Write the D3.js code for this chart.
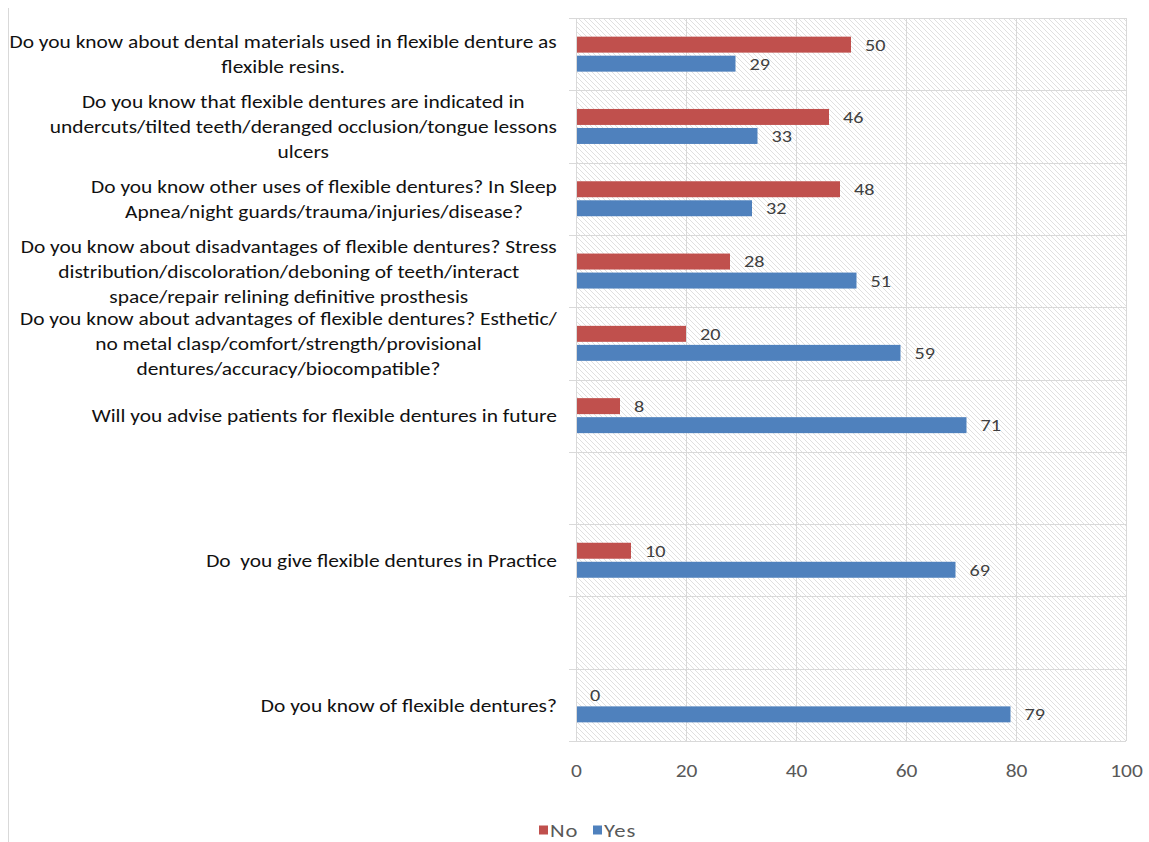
<!DOCTYPE html>
<html>
<head>
<meta charset="utf-8">
<script src="https://cdn.jsdelivr.net/npm/d3@7"></script>
<style>
  body { margin: 0; background: #fff; }
  svg text { font-family: Carlito, Calibri, Lato, sans-serif; }
</style>
</head>
<body>
<div id="chart"></div>
<script>
(function () {
	"use strict";

	// category labels, top to bottom, already wrapped the way the original is
	var categories = [
		["Do you know about dental materials used in flexible denture as", "flexible resins."],
		["Do you know that flexible dentures are indicated in", "undercuts/tilted teeth/deranged occlusion/tongue lessons", "ulcers"],
		["Do you know other uses of flexible dentures? In Sleep", "Apnea/night guards/trauma/injuries/disease?"],
		["Do you know about disadvantages of flexible dentures? Stress", "distribution/discoloration/deboning of teeth/interact", "space/repair relining definitive prosthesis"],
		["Do you know about advantages of flexible dentures? Esthetic/", "no metal clasp/comfort/strength/provisional", "dentures/accuracy/biocompatible?"],
		["Will you advise patients for flexible dentures in future"],
		[],
		["Do  you give flexible dentures in Practice"],
		[],
		["Do you know of flexible dentures?"]
	];
	var noValues  = [50, 46, 48, 28, 20, 8, null, 10, null, 0];
	var yesValues = [29, 33, 32, 51, 59, 71, null, 69, null, 79];
	var seriesNames = ["No", "Yes"];
	var seriesColors = ["#C0504D", "#4F81BD"];
	var xTicks = [0, 20, 40, 60, 80, 100];

	var width = 1149, height = 842,
		plot = {left: 576, right: 1126, top: 18, bottom: 741},
		labelRight = 557,
		lineHeight = 25,
		stretch = 1.19,   // the source picture is a bit wider than it is tall
		gridColor = "#d9d9d9";

	var svg = d3.select("#chart").append("svg")
		.attr("width", width)
		.attr("height", height);

	// hatch fill of the plot area
	var defs = svg.append("defs");
	var pat = defs.append("pattern")
		.attr("id", "hatch")
		.attr("patternUnits", "userSpaceOnUse")
		.attr("width", 5)
		.attr("height", 5);
	pat.append("path")
		.attr("d", "M-1,-1 L6,6 M-1,4 L1,6 M4,-1 L6,1")
		.attr("stroke", "#dadada")
		.attr("stroke-width", 0.85);

	// thin frame line on the left side of the picture
	svg.append("line")
		.attr("x1", 8.5).attr("x2", 8.5)
		.attr("y1", 8).attr("y2", height)
		.attr("stroke", gridColor);

	var idx = d3.range(categories.length);
	var y = d3.scaleBand().domain(idx).range([plot.top, plot.bottom]);
	var ySeries = d3.scaleBand().domain(seriesNames).range([-17.5, 17.5]).paddingInner(0.16);
	var x = d3.scaleLinear().domain([0, 100]).range([plot.left, plot.right]);

	svg.append("rect")
		.attr("x", plot.left).attr("y", plot.top)
		.attr("width", plot.right - plot.left)
		.attr("height", plot.bottom - plot.top)
		.attr("fill", "url(#hatch)");

	// vertical gridlines
	svg.append("g").selectAll("line")
		.data(xTicks.slice(1))
		.join("line")
		.attr("x1", function (d) { return x(d) + 0.5; })
		.attr("x2", function (d) { return x(d) + 0.5; })
		.attr("y1", plot.top).attr("y2", plot.bottom)
		.attr("stroke", gridColor);

	// category boundaries, with the little ticks left of the axis
	var bounds = idx.map(function (i) { return y(i); }).concat([plot.bottom]);
	svg.append("g").selectAll("line")
		.data(bounds)
		.join("line")
		.attr("x1", plot.left - 7).attr("x2", plot.right)
		.attr("y1", function (d) { return Math.round(d) + 0.5; })
		.attr("y2", function (d) { return Math.round(d) + 0.5; })
		.attr("stroke", gridColor);

	svg.append("line")
		.attr("x1", plot.left + 0.5).attr("x2", plot.left + 0.5)
		.attr("y1", plot.top).attr("y2", plot.bottom)
		.attr("stroke", gridColor);

	// x axis tick labels
	var xAxis = svg.append("g")
		.attr("transform", "translate(0," + (plot.bottom + 30) + ")")
		.call(d3.axisBottom(x).tickValues(xTicks).tickSize(0).tickPadding(0));
	xAxis.select(".domain").remove();
	xAxis.attr("font-family", null).attr("font-size", null);
	xAxis.selectAll("text")
		.attr("font-size", 18)
		.attr("fill", "#595959")
		.attr("dy", "0.35em")
		.attr("transform", "scale(" + stretch + ",1)");

	// bars
	var series = [noValues, yesValues];
	var rows = [];
	idx.forEach(function (i) {
		series.forEach(function (vals, s) {
			if (vals[i] !== null) rows.push({i: i, s: s, v: vals[i]});
		});
	});
	var barY = function (d) { return y(d.i) + y.bandwidth() / 2 + ySeries(seriesNames[d.s]); };

	svg.append("g").selectAll("rect")
		.data(rows)
		.join("rect")
		.attr("x", x(0) + 1)
		.attr("y", barY)
		.attr("width", function (d) { return Math.max(0, x(d.v) - x(0) - 1); })
		.attr("height", ySeries.bandwidth())
		.attr("fill", function (d) { return seriesColors[d.s]; });

	svg.append("g").selectAll("text")
		.data(rows)
		.join("text")
		.attr("transform", function (d) {
			return "translate(" + (x(d.v) + 14) + "," + (barY(d) + ySeries.bandwidth() / 2) + ") scale(" + stretch + ",1)";
		})
		.attr("dy", "0.35em")
		.attr("font-size", 17)
		.attr("fill", "#404040")
		.text(function (d) { return d.v; });

	// category labels: each block centred on itself, block right-aligned
	var labels = svg.append("g");
	categories.forEach(function (lines, i) {
		if (!lines.length) return;
		var g = labels.append("g");
		var cy = y(i) + y.bandwidth() / 2 + 0.5,
			y0 = cy - (lines.length - 1) * lineHeight / 2;
		var t = g.selectAll("text")
			.data(lines)
			.join("text")
			.attr("x", 0)
			.attr("y", function (d, k) { return y0 + k * lineHeight; })
			.attr("dy", "0.35em")
			.attr("font-size", 18)
			.attr("fill", "#111")
			.attr("text-anchor", "middle")
			.style("white-space", "pre")
			.text(function (d) { return d; });
		var maxW = d3.max(t.nodes(), function (n) { return n.getComputedTextLength(); }) * stretch;
		g.attr("transform", "translate(" + (labelRight - maxW / 2) + ",0) scale(" + stretch + ",1)");
	});

	// legend
	var legend = svg.append("g").attr("transform", "translate(0,830)");
	var legendX = [539, 593];
	seriesNames.forEach(function (name, s) {
		legend.append("rect")
			.attr("x", legendX[s]).attr("y", -4.5)
			.attr("width", 9).attr("height", 9)
			.attr("fill", seriesColors[s]);
		legend.append("text")
			.attr("transform", "translate(" + (legendX[s] + 11) + ",0) scale(" + stretch + ",1)")
			.attr("dy", "0.35em")
			.attr("font-size", 19)
			.attr("letter-spacing", 0.8)
			.attr("fill", "#595959")
			.text(name);
	});
})();
</script>
</body>
</html>
